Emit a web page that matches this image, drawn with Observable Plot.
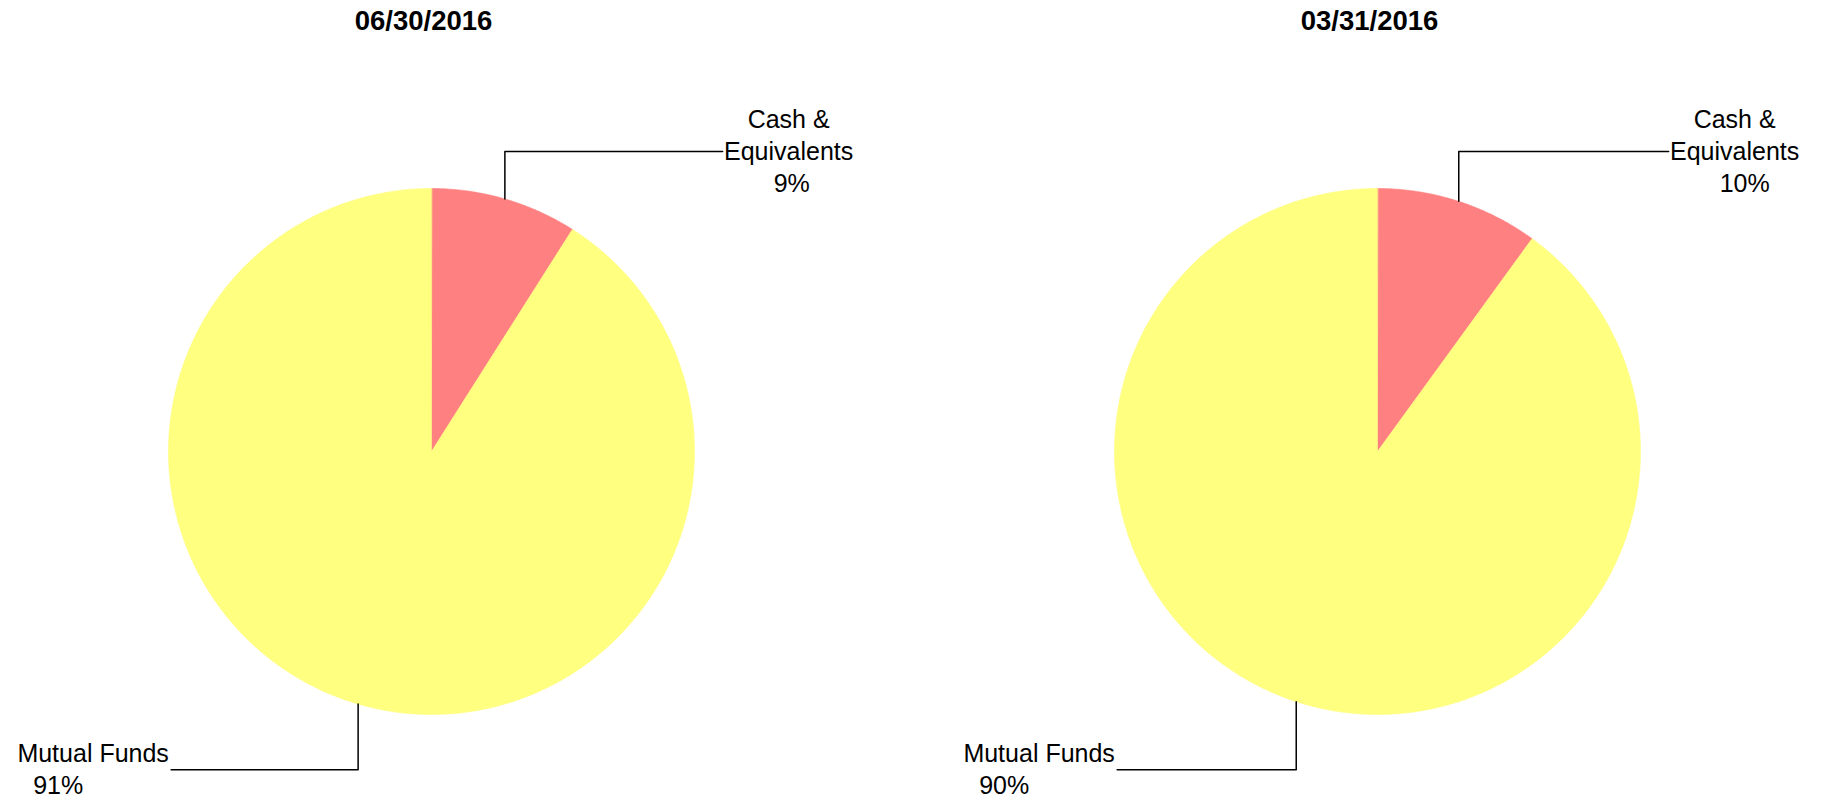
<!DOCTYPE html>
<html>
<head>
<meta charset="utf-8">
<script src="https://cdn.jsdelivr.net/npm/d3@7"></script>
<script src="https://cdn.jsdelivr.net/npm/@observablehq/plot@0.6"></script>
<style>
  html, body { margin: 0; padding: 0; background: #ffffff; }
  #chart svg { display: block; }
</style>
</head>
<body>
<div id="chart"></div>
<script>
// ---- data ----
const dates = ["06/30/2016", "03/31/2016"];
const categories = ["Cash & Equivalents", "Mutual Funds"];
const labelNames = ["Cash &\nEquivalents", "Mutual Funds"];
const cashShare = [9, 10];
const mutualShare = [91, 90];
const sliceColors = ["#FF8080", "#FFFF80"];

// ---- layout ----
const W = 1822, H = 801;
const R = 263;          // pie radius in px
const CX = 431;         // pie centre within facet band (px)
const CY = 451;         // pie centre (px)
const MT = 40;          // top margin for titles
const BAND = 876;       // facet band width (px)

const xDomain = [-CX / R, (BAND - CX) / R];
const yDomain = [-(H - CY) / R, (CY - MT) / R];

// ---- build slices, leaders, labels from the values ----
const slices = [];
const leaders = [];
const labels = [];
dates.forEach((date, i) => {
  const vals = [cashShare[i], mutualShare[i]];
  const total = d3.sum(vals);
  let start = 0;
  categories.forEach((cat, j) => {
    const a0 = (start / total) * 2 * Math.PI;
    const a1 = ((start + vals[j]) / total) * 2 * Math.PI;
    const key = date + "|" + cat;
    slices.push({date, cat, key, x: 0, y: 0});
    const n = Math.max(2, Math.ceil((a1 - a0) / (Math.PI / 360)));
    for (let k = 0; k <= n; k++) {
      const a = a0 + (a1 - a0) * k / n;
      slices.push({date, cat, key, x: Math.sin(a), y: Math.cos(a)});
    }
    const m = (a0 + a1) / 2;
    const ex = Math.sin(m), ey = Math.cos(m);
    const level = ey > 0 ? 1.141 : -1.21;
    const endX = ex > 0 ? 1.107 : -0.99;
    leaders.push({date, key, x: ex, y: ey});
    leaders.push({date, key, x: ex, y: level});
    leaders.push({date, key, x: endX, y: level});
    labels.push({date, cat, side: ex > 0 ? 1 : -1, x: endX, y: level,
                 name: labelNames[j], pct: vals[j] + "%"});
    start += vals[j];
  });
});

const font = "'Liberation Sans', Arial, Helvetica, sans-serif";
const right = labels.filter(d => d.side > 0);
const left = labels.filter(d => d.side < 0);

const chart = Plot.plot({
  width: W,
  height: H,
  marginLeft: 0,
  marginRight: 0,
  marginTop: MT,
  marginBottom: 0,
  style: {fontFamily: font, fontSize: "25px", background: "#ffffff", color: "#000"},
  fx: {domain: dates, paddingInner: 0.074, paddingOuter: 0, label: null},
  x: {domain: xDomain, axis: null},
  y: {domain: yDomain, axis: null},
  color: {domain: categories, range: sliceColors},
  marks: [
    Plot.axisFx({anchor: "top", tickSize: 0, tickPadding: 11, label: null,
                 fontSize: 27.5, fontWeight: "bold", fontFamily: font, dx: -15, fill: "#000"}),
    Plot.line(slices, {x: "x", y: "y", fx: "date", z: "key", fill: "cat", stroke: "cat",
                       strokeWidth: 0.6, curve: "linear-closed"}),
    Plot.line(leaders, {x: "x", y: "y", fx: "date", z: "key", stroke: "#000", strokeWidth: 1.5}),
    Plot.text(right, {x: "x", y: "y", fx: "date", text: "name", dx: 66, dy: 9,
                      lineAnchor: "bottom", lineHeight: 1.28, textAnchor: "middle", fontSize: 25, fill: "#000"}),
    Plot.text(right, {x: "x", y: "y", fx: "date", text: "pct", dx: 51, dy: 41,
                      lineAnchor: "bottom", textAnchor: "start", fontSize: 25, fill: "#000"}),
    Plot.text(left, {x: "x", y: "y", fx: "date", text: "name", dx: -78, dy: -8,
                     lineAnchor: "bottom", textAnchor: "middle", fontSize: 25, fill: "#000"}),
    Plot.text(left, {x: "x", y: "y", fx: "date", text: "pct", dx: -138, dy: 24,
                     lineAnchor: "bottom", textAnchor: "start", fontSize: 25, fill: "#000"})
  ]
});
document.getElementById("chart").appendChild(chart);
</script>
</body>
</html>
